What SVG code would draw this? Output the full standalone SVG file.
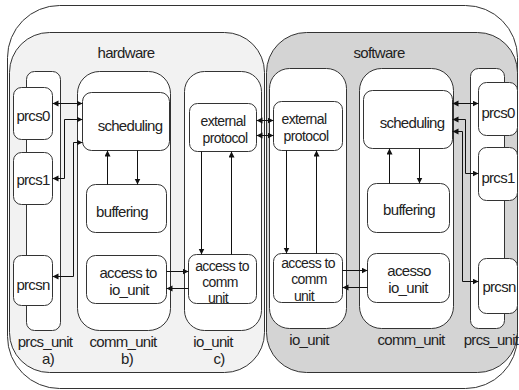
<svg xmlns="http://www.w3.org/2000/svg" width="519" height="390" viewBox="0 0 519 390">
  <style>
    text { font-family: "Liberation Sans", Arial, sans-serif; font-size: 15px; fill: #222; text-anchor: middle; letter-spacing: -0.7px; }
    text.tight { font-size: 14px; letter-spacing: -0.6px; }
    .col { fill: #fff; stroke: #333; stroke-width: 1; }
    .box { fill: #fff; stroke: #333; stroke-width: 1; }
    .conn path { fill: none; stroke: #111; stroke-width: 1; }
    .one { marker-end: url(#arr); }
    .two { marker-start: url(#arr); marker-end: url(#arr); }
  </style>
  <defs>
    <marker id="arr" markerUnits="userSpaceOnUse" markerWidth="7" markerHeight="7" refX="6" refY="3" orient="auto-start-reverse">
      <path d="M0,0 L6,3 L0,6 z" fill="#111"/>
    </marker>
  </defs>

  <rect width="519" height="390" fill="#fff"/>

  <!-- enclosing system outline -->
  <rect id="system" x="7.5" y="5.5" width="510" height="383" rx="52" fill="none" stroke="#333"/>

  <!-- hardware side -->
  <g id="hardware">
    <rect x="9.5" y="32.5" width="255" height="340" rx="40" fill="#f2f2f2" stroke="#333"/>
    <text x="126" y="58">hardware</text>
  </g>
  <!-- software side -->
  <g id="software">
    <rect x="266.5" y="32.5" width="251" height="340" rx="40" fill="#d4d4d4" stroke="#333"/>
    <text x="379" y="58">software</text>
  </g>

  <!-- hardware units -->
  <g id="hw_prcs_unit">
    <rect class="col" x="26.5" y="71.5" width="34" height="259" rx="8"/>
    <text x="45" y="347">prcs_unit</text>
    <text x="48" y="364">a)</text>
  </g>
  <g id="hw_prcs0"><rect class="box" x="13.5" y="87.5" width="39" height="52" rx="8"/><text x="33" y="121">prcs0</text></g>
  <g id="hw_prcs1"><rect class="box" x="13.5" y="152.5" width="39" height="52" rx="8"/><text x="33" y="185">prcs1</text></g>
  <g id="hw_prcsn"><rect class="box" x="13.5" y="255.5" width="39" height="50" rx="8"/><text x="33" y="290">prcsn</text></g>

  <g id="hw_comm_unit">
    <rect class="col" x="77.5" y="71.5" width="93" height="259" rx="22"/>
    <text x="123" y="347">comm_unit</text>
    <text x="127" y="364">b)</text>
  </g>
  <g id="hw_scheduling"><rect class="box" x="82.5" y="92.5" width="87" height="58" rx="9"/><text x="130" y="131">scheduling</text></g>
  <g id="hw_buffering"><rect class="box" x="86.5" y="184.5" width="80" height="48" rx="9"/><text x="122" y="217">buffering</text></g>
  <g id="hw_access_io"><rect class="box" x="86.5" y="255.5" width="80" height="48" rx="9"/><text x="128" y="278">access to</text><text x="129" y="295">io_unit</text></g>

  <g id="hw_io_unit">
    <rect class="col" x="184.5" y="71.5" width="77" height="259" rx="20"/>
    <text x="213" y="347">io_unit</text>
    <text x="219" y="364">c)</text>
  </g>
  <g id="hw_external"><rect class="box" x="189.5" y="103.5" width="67" height="48" rx="8"/><text class="tight" x="223" y="126">external</text><text class="tight" x="225" y="143">protocol</text></g>
  <g id="hw_access_comm"><rect class="box" x="188.5" y="254.5" width="68" height="49" rx="8"/><text class="tight" x="222" y="271">access to</text><text class="tight" x="220" y="287">comm</text><text class="tight" x="218" y="303">unit</text></g>

  <!-- software units -->
  <g id="sw_io_unit">
    <rect class="col" x="269.5" y="68.5" width="77" height="260" rx="20"/>
    <text x="309" y="345">io_unit</text>
  </g>
  <g id="sw_external"><rect class="box" x="273.5" y="101.5" width="69" height="49" rx="8"/><text class="tight" x="304" y="124">external</text><text class="tight" x="306" y="141">protocol</text></g>
  <g id="sw_access_comm"><rect class="box" x="273.5" y="253.5" width="69" height="49" rx="8"/><text class="tight" x="308" y="268">access to</text><text class="tight" x="309" y="284">comm</text><text class="tight" x="304" y="301">unit</text></g>

  <g id="sw_comm_unit">
    <rect class="col" x="359.5" y="68.5" width="94" height="260" rx="22"/>
    <text x="411" y="345">comm_unit</text>
  </g>
  <g id="sw_scheduling"><rect class="box" x="363.5" y="90.5" width="89" height="58" rx="9"/><text x="412" y="128">scheduling</text></g>
  <g id="sw_buffering"><rect class="box" x="367.5" y="183.5" width="82" height="49" rx="9"/><text x="409" y="215">buffering</text></g>
  <g id="sw_acesso_io"><rect class="box" x="367.5" y="253.5" width="82" height="49" rx="9"/><text x="409" y="276">acesso</text><text x="408" y="293">io_unit</text></g>

  <g id="sw_prcs_unit">
    <rect class="col" x="470.5" y="68.5" width="34" height="260" rx="8"/>
    <text x="491" y="345">prcs_unit</text>
  </g>
  <g id="sw_prcs0"><rect class="box" x="478.5" y="82.5" width="39" height="53" rx="8"/><text x="498" y="118">prcs0</text></g>
  <g id="sw_prcs1"><rect class="box" x="478.5" y="147.5" width="39" height="53" rx="8"/><text x="498" y="183">prcs1</text></g>
  <g id="sw_prcsn"><rect class="box" x="478.5" y="258.5" width="39" height="55" rx="8"/><text x="499" y="292">prcsn</text></g>

  <!-- connectors -->
  <g id="connectors" class="conn">
    <!-- hardware -->
    <path class="two" d="M52.5,103.5 H82.5"/>
    <path class="two" d="M82.5,119.5 H64.5 V178.5 H52.5"/>
    <path class="two" d="M82.5,142.5 H73.5 V276.5 H52.5"/>
    <path class="one" d="M107.5,184.5 V150.5"/>
    <path class="one" d="M137.5,150.5 V184.5"/>
    <path class="one" d="M201.5,151.5 V254.5"/>
    <path class="one" d="M231.5,254.5 V151.5"/>
    <path class="one" d="M166.5,271.5 H188.5"/>
    <path class="one" d="M188.5,288.5 H166.5"/>
    <!-- hardware / software protocol link -->
    <path class="two" d="M256.5,120.5 H273.5"/>
    <path class="two" d="M256.5,135.5 H273.5"/>
    <!-- software -->
    <path class="one" d="M286.5,150.5 V253.5"/>
    <path class="one" d="M316.5,253.5 V150.5"/>
    <path class="one" d="M342.5,270.5 H367.5"/>
    <path class="one" d="M367.5,287.5 H342.5"/>
    <path class="one" d="M389.5,183.5 V148.5"/>
    <path class="one" d="M419.5,148.5 V183.5"/>
    <path class="two" d="M452.5,103.5 H478.5"/>
    <path class="two" d="M452.5,119.5 H465.5 V173.5 H478.5"/>
    <path class="two" d="M452.5,131.5 H462.5 V281.5 H478.5"/>
  </g>
</svg>
